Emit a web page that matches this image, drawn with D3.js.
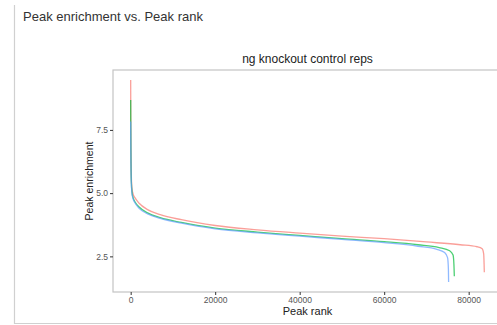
<!DOCTYPE html>
<html>
<head>
<meta charset="utf-8">
<script src="https://cdn.jsdelivr.net/npm/d3@7"></script>
<style>
  body { margin: 0; background: #fff; }
  svg { display: block; font-family: "Liberation Sans", Arial, sans-serif; }
</style>
</head>
<body>
<svg id="chart" width="497" height="325"></svg>
<script>
// Data: [peak rank, peak enrichment]
const redRep = [
  [0, 9.47], [20, 8.0], [60, 6.8], [150, 5.7], [300, 5.2], [600, 4.95], [1000, 4.82],
  [2000, 4.6], [4000, 4.35], [7000, 4.15], [12000, 3.95], [20000, 3.72], [30000, 3.55],
  [40000, 3.42], [50000, 3.3], [60000, 3.2], [70000, 3.07], [78000, 2.96], [82000, 2.88],
  [83200, 2.8], [83550, 2.6], [83700, 1.87]
];
const greenRep = [
  [0, 8.68], [20, 7.6], [60, 6.5], [150, 5.5], [300, 5.05], [600, 4.8], [1000, 4.66],
  [2000, 4.45], [4000, 4.22], [7000, 4.03], [12000, 3.84], [20000, 3.62], [30000, 3.46],
  [40000, 3.33], [50000, 3.2], [60000, 3.08], [68000, 2.96], [73000, 2.85], [75500, 2.72],
  [76300, 2.55], [76500, 2.2], [76600, 1.71]
];
const blueRep = [
  [0, 7.83], [20, 7.2], [60, 6.3], [150, 5.4], [300, 5.0], [600, 4.76], [1000, 4.62],
  [2000, 4.4], [4000, 4.18], [7000, 4.0], [12000, 3.81], [20000, 3.59], [30000, 3.43],
  [40000, 3.3], [50000, 3.17], [60000, 3.04], [68000, 2.9], [72500, 2.78], [74300, 2.65],
  [75000, 2.45], [75200, 2.0], [75250, 1.49]
];
const seriesColors = ["#F8766D", "#00BA38", "#619CFF"];
const xTicks = [0, 20000, 40000, 60000, 80000];
const yTicks = [2.5, 5.0, 7.5];

const svg = d3.select("#chart");

// outer card frame
svg.append("path")
  .attr("d", "M14.5,5 V323.5 H497")
  .attr("fill", "none")
  .attr("stroke", "#d0d0d0")
  .attr("stroke-width", 1.2);

svg.append("text")
  .attr("x", 23)
  .attr("y", 21)
  .attr("font-size", 13)
  .attr("fill", "#333")
  .text("Peak enrichment vs. Peak rank");

const panel = { left: 113, top: 70, right: 502, bottom: 292 };

const all = redRep.concat(greenRep, blueRep);
const xMax = d3.max(all, (d) => d[0]);
const [yMin, yMax] = d3.extent(all, (d) => d[1]);
const xPad = xMax * 0.05;
const yPad = (yMax - yMin) * 0.05;

const x = d3.scaleLinear().domain([-xPad, xMax + xPad]).range([panel.left, panel.right]);
const y = d3.scaleLinear().domain([yMin - yPad, yMax + yPad]).range([panel.bottom, panel.top]);

const line = d3.line()
  .x((d) => x(d[0]))
  .y((d) => y(d[1]))
  .curve(d3.curveMonotoneX);

[redRep, greenRep, blueRep].forEach((s, i) => {
  svg.append("path")
    .datum(s)
    .attr("fill", "none")
    .attr("stroke", seriesColors[i])
    .attr("stroke-opacity", 0.7)
    .attr("stroke-width", 1.3)
    .attr("d", line);
});

// panel border
svg.append("rect")
  .attr("x", panel.left)
  .attr("y", panel.top)
  .attr("width", panel.right - panel.left)
  .attr("height", panel.bottom - panel.top)
  .attr("fill", "none")
  .attr("stroke", "#c4c4c4")
  .attr("stroke-width", 1.2);

// axes
const xAxis = svg.append("g")
  .attr("transform", `translate(0,${panel.bottom})`)
  .call(d3.axisBottom(x).tickValues(xTicks).tickFormat(d3.format("d")).tickSize(3).tickPadding(2));
const yAxis = svg.append("g")
  .attr("transform", `translate(${panel.left},0)`)
  .call(d3.axisLeft(y).tickValues(yTicks).tickFormat(d3.format(".1f")).tickSize(3).tickPadding(2));

[xAxis, yAxis].forEach((g) => {
  g.select(".domain").remove();
  g.selectAll(".tick line").attr("stroke", "#333");
  g.selectAll(".tick text")
    .attr("fill", "#555")
    .attr("font-size", 8.5)
    .attr("font-family", "Liberation Sans, Arial, sans-serif");
});

svg.append("text")
  .attr("x", (panel.left + panel.right) / 2)
  .attr("y", 63)
  .attr("text-anchor", "middle")
  .attr("font-size", 12)
  .attr("fill", "#222")
  .text("ng knockout control reps");

svg.append("text")
  .attr("x", (panel.left + panel.right) / 2)
  .attr("y", 315)
  .attr("text-anchor", "middle")
  .attr("font-size", 11)
  .attr("fill", "#222")
  .text("Peak rank");

svg.append("text")
  .attr("transform", `translate(93,${(panel.top + panel.bottom) / 2}) rotate(-90)`)
  .attr("text-anchor", "middle")
  .attr("font-size", 10.5)
  .attr("fill", "#222")
  .text("Peak enrichment");
</script>
</body>
</html>
